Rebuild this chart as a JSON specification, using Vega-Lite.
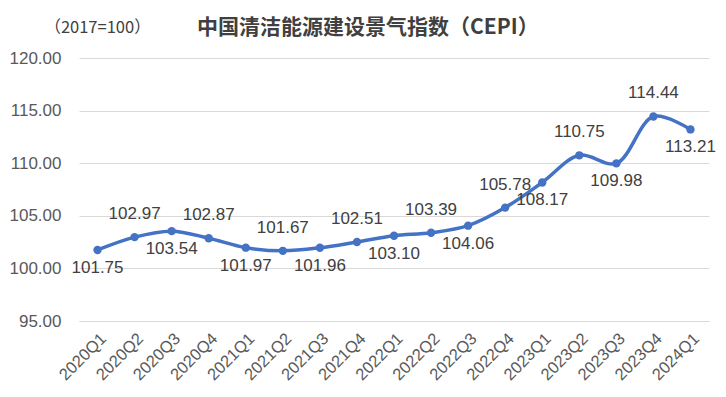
{
  "$schema": "https://vega.github.io/schema/vega-lite/v6.json",
  "autosize": {"type": "none"},
  "padding": {"left": 79, "top": 58, "right": 17, "bottom": 76},
  "width": 630,
  "height": 263,
  "background": "white",
  "title": {
    "text": "中国清洁能源建设景气指数（CEPI）",
    "anchor": "start",
    "frame": "group",
    "dx": 118,
    "offset": 0,
    "dy": 19,
    "font": "Noto Sans CJK SC",
    "fontSize": 21,
    "fontWeight": "bold",
    "color": "#404040"
  },
  "config": {
    "view": {"stroke": null}
  },
  "data": {
    "values": [
      {"q": "2020Q1", "v": 101.75},
      {"q": "2020Q2", "v": 102.97},
      {"q": "2020Q3", "v": 103.54},
      {"q": "2020Q4", "v": 102.87},
      {"q": "2021Q1", "v": 101.97},
      {"q": "2021Q2", "v": 101.67},
      {"q": "2021Q3", "v": 101.96},
      {"q": "2021Q4", "v": 102.51},
      {"q": "2022Q1", "v": 103.10},
      {"q": "2022Q2", "v": 103.39},
      {"q": "2022Q3", "v": 104.06},
      {"q": "2022Q4", "v": 105.78},
      {"q": "2023Q1", "v": 108.17},
      {"q": "2023Q2", "v": 110.75},
      {"q": "2023Q3", "v": 109.98},
      {"q": "2023Q4", "v": 114.44},
      {"q": "2024Q1", "v": 113.21}
    ]
  },
  "encoding": {
    "x": {
      "field": "q", "type": "ordinal", "sort": null,
      "scale": {"type": "point", "padding": 0.5},
      "axis": {
        "title": null, "labelAngle": -45, "labelFontSize": 16.5, "labelFont": "Liberation Sans",
        "labelColor": "#595959", "ticks": false,
        "domain": true, "domainColor": "#d9d9d9", "labelPadding": 9, "grid": false
      }
    },
    "y": {
      "field": "v", "type": "quantitative",
      "scale": {"domain": [95, 120], "nice": false, "zero": false},
      "axis": {
        "values": [95, 100, 105, 110, 115, 120], "format": ".2f",
        "labelFont": "Liberation Sans", "labelColor": "#595959",
        "labelFontSize": 17, "ticks": false, "domain": false, "labelPadding": 18,
        "gridColor": "#d9d9d9", "gridWidth": 1,
        "title": "（2017=100）", "titleFont": "Noto Sans CJK SC", "titleAngle": 0, "titleX": 18, "titleY": -31,
        "titleAlign": "center", "titleBaseline": "middle", "titleFontSize": 16.5,
        "titleFontWeight": "normal", "titleColor": "#404040"
      }
    }
  },
  "layer": [
    {
      "mark": {"type": "line", "interpolate": "catmull-rom", "color": "#4472C4", "strokeWidth": 3.5}
    },
    {
      "mark": {"type": "point", "filled": true, "opacity": 1, "color": "#4472C4", "size": 70}
    },
    {
      "transform": [{"filter": {"field": "q", "oneOf": ["2020Q2", "2020Q4", "2021Q2", "2021Q4", "2022Q2", "2022Q4", "2023Q2", "2023Q4"]}}],
      "mark": {"type": "text", "dy": -23, "font": "Liberation Sans", "fontSize": 17, "color": "#404040"},
      "encoding": {"text": {"field": "v", "type": "quantitative", "format": ".2f"}}
    },
    {
      "transform": [{"filter": {"field": "q", "oneOf": ["2020Q1", "2020Q3", "2021Q1", "2021Q3", "2022Q1", "2022Q3", "2023Q1", "2023Q3", "2024Q1"]}}],
      "mark": {"type": "text", "dy": 18, "font": "Liberation Sans", "fontSize": 17, "color": "#404040"},
      "encoding": {"text": {"field": "v", "type": "quantitative", "format": ".2f"}}
    }
  ]
}
